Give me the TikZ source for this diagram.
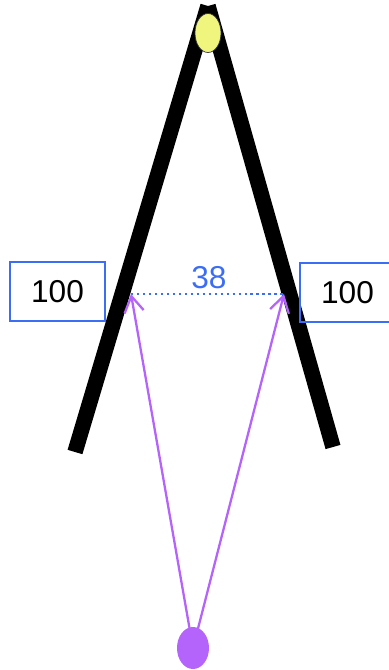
\documentclass[tikz,border=0pt]{standalone}
\usepackage{fontspec}
\setmainfont{Liberation Sans}
\usetikzlibrary{shapes.geometric,arrows.meta,positioning}
\definecolor{labelblue}{RGB}{60,110,245}
\definecolor{raypurple}{RGB}{180,100,250}
\definecolor{pivotyellow}{RGB}{240,245,125}

\begin{document}
\begin{tikzpicture}[
    x=0.02cm, y=-0.02cm,
    leg/.style={line width=8.8pt, black},
    valbox/.style={draw=labelblue, line width=1.1pt, rectangle, minimum width=1.9cm, minimum height=1.18cm, font=\fontsize{18}{20}\selectfont},
    ray/.style={draw=raypurple, line width=1.3pt, -{Straight Barb[length=9pt,width=11pt,line width=1.3pt]}},
    gap/.style={draw=labelblue, line width=1.4pt, dotted}
]
    \useasboundingbox (0,0) rectangle (389,670);

    % legs of the compass
    \coordinate (top) at (208,6);
    \coordinate (leftfoot) at (75,452);
    \coordinate (rightfoot) at (333,447);
    \draw[leg] (top) -- (leftfoot);
    \draw[leg] (top) -- (rightfoot);
    \node[ellipse, draw=black!80, line width=0.4pt, fill=pivotyellow, minimum width=0.52cm, minimum height=0.78cm, inner sep=0pt] (pivot) at (208,33) {};

    % measured distance
    \coordinate (lefthit) at (131,294);
    \coordinate (righthit) at (284,294);
    \draw[gap] (lefthit) -- (righthit);
    \node[text=labelblue, font=\fontsize{18}{20}\selectfont] (dist) at (209,278) {38};

    \node[valbox] (leftval) at (57.5,291.5) {100};
    \node[valbox] (rightval) at (347.5,292.5) {100};

    % rays from the source
    \coordinate (src) at (193,648);
    \draw[ray] (src) -- (lefthit);
    \draw[ray] (src) -- (righthit);
    \node[ellipse, fill=raypurple, minimum width=0.64cm, minimum height=0.84cm, inner sep=0pt] (source) at (src) {};
\end{tikzpicture}
\end{document}
